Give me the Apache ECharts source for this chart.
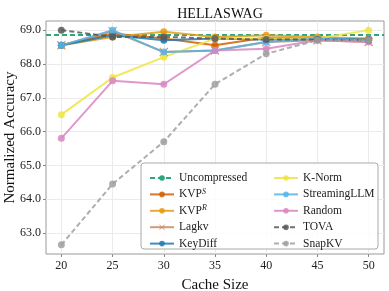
<!DOCTYPE html>
<html><head><meta charset="utf-8">
<script src="https://cdn.jsdelivr.net/npm/echarts@6/dist/echarts.min.js"></script>
<style>html,body{margin:0;padding:0;background:#fff}#c{width:389px;height:291px}</style>
</head><body><div id="c"></div>
<script>
const cacheSizes = [20, 25, 30, 35, 40, 45, 50];
const uncompressed = 68.85;
const kvpS = [68.55, 68.9, 68.75, 68.55, 68.78, 68.75, 68.72];
const kvpR = [68.55, 68.8, 68.95, 68.8, 68.85, 68.8, 68.75];
const lagkv = [68.55, 68.97, 68.35, 68.4, 68.65, 68.7, 68.65];
const keyDiff = [68.55, 68.85, 68.7, 68.75, 68.72, 68.75, 68.72];
const kNorm = [66.5, 67.6, 68.2, 68.75, 68.75, 68.75, 69.0];
const streamingLLM = [68.55, 69.0, 68.35, 68.4, 68.65, 68.75, 68.7];
const random = [65.8, 67.5, 67.4, 68.4, 68.45, 68.7, 68.65];
const tova = [69.0, 68.8, 68.8, 68.75, 68.72, 68.72, 68.7];
const snapKV = [62.65, 64.45, 65.7, 67.4, 68.3, 68.7, 68.7];
const yTicks = [63, 64, 65, 66, 67, 68, 69];
const xTicks = [20, 25, 30, 35, 40, 45, 50];

const FONT = "'Liberation Serif','DejaVu Serif',serif";
const XMARK = 'path://M1,0L5,4L9,0L10,1L6,5L10,9L9,10L5,6L1,10L0,9L4,5L0,1Z';
function pairs(v){ return cacheSizes.map((x,i)=>[x, v[i]]); }
function mk(name, data, color, opts){
  opts = opts || {};
  return {
    name, type:'line', data: pairs(data),
    symbol: opts.symbol || 'circle', symbolSize: opts.symbolSize || 7,
    lineStyle:{color, width:2, type: opts.dash ? [5,3] : 'solid', opacity:0.85},
    itemStyle:{color, opacity:0.85},
    emphasis:{disabled:true}, z: 2
  };
}
const series = [
  {name:'Uncompressed', type:'line', data:[], symbol:'none', z:2,
   lineStyle:{color:'#2ca67d', width:2, type:[5,3]}, itemStyle:{color:'#2ca67d'},
   markLine:{silent:true, symbol:'none', label:{show:false}, z:2,
     lineStyle:{color:'#2ca67d', width:2, type:[5,3]}, data:[{yAxis: uncompressed}]}},
  mk('KVP^S', kvpS, '#d55e00'),
  mk('KVP^R', kvpR, '#e69b12'),
  mk('Lagkv', lagkv, '#c98a5c', {symbol: XMARK, symbolSize: 9}),
  mk('KeyDiff', keyDiff, '#1f7ab5'),
  mk('K-Norm', kNorm, '#f0e442'),
  mk('StreamingLLM', streamingLLM, '#56b4e9'),
  mk('Random', random, '#d886c3'),
  mk('TOVA', tova, '#585858', {dash:true}),
  mk('SnapKV', snapKV, '#a0a0a0', {dash:true})
];
const legendBase = {
  orient:'vertical', itemWidth:24, itemHeight:7, itemGap:2.4, z:10,
  textStyle:{fontFamily:FONT, fontSize:11.5, color:'#222', lineHeight:14,
    rich:{sup:{fontFamily:FONT, fontSize:8, fontStyle:'italic', color:'#222', lineHeight:8, verticalAlign:'top'},
          b:{fontFamily:FONT, fontSize:11.5, color:'#222', lineHeight:14}}},
  formatter: n => n.indexOf('^')>0 ? '{b|' + n.split('^')[0] + '}{sup|' + n.split('^')[1] + '}' : n,
  selectedMode:false
};
const chart = echarts.init(document.getElementById('c'), null, {renderer:'canvas'});
chart.setOption({
  animation:false,
  title:{text:'HELLASWAG', left:215, top:2, textAlign:'center',
    textStyle:{fontFamily:FONT, fontSize:14, fontWeight:'normal', color:'#111'}},
  grid:{left:46, right:5, top:21, bottom:37, show:true, borderColor:'#999', borderWidth:1,
    outerBoundsMode:'none', containLabel:false},
  xAxis:{type:'value', min:18.5, max:51.5, name:'Cache Size', nameLocation:'middle', nameGap:24,
    nameMoveOverlap:false,
    nameTextStyle:{fontFamily:FONT, fontSize:15, color:'#111'},
    axisLine:{show:false}, axisTick:{show:true, length:3, lineStyle:{color:'#888'}, customValues:xTicks},
    axisLabel:{customValues:xTicks, fontFamily:FONT, fontSize:12, color:'#222', margin:6},
    splitLine:{show:true, lineStyle:{color:'#ebebeb', width:1}}},
  yAxis:{type:'value', min:62.38, max:69.27, name:'Normalized Accuracy', nameLocation:'middle', nameGap:28,
    nameMoveOverlap:false,
    nameTextStyle:{fontFamily:FONT, fontSize:15, color:'#111'},
    axisLine:{show:false}, axisTick:{show:true, length:3, lineStyle:{color:'#888'}, customValues:yTicks},
    axisLabel:{customValues:yTicks, formatter:v=>v.toFixed(1), fontFamily:FONT, fontSize:12, color:'#222', margin:5},
    splitLine:{show:true, lineStyle:{color:'#ebebeb', width:1}}},
  legend:[
    Object.assign({}, legendBase, {left:144, top:166, data:['Uncompressed','KVP^S','KVP^R','Lagkv','KeyDiff']}),
    Object.assign({}, legendBase, {left:268, top:166, data:['K-Norm','StreamingLLM','Random','TOVA','SnapKV']})
  ],
  graphic:[{type:'rect', shape:{x:141, y:163, width:237, height:86, r:3},
    style:{fill:'rgba(255,255,255,0.85)', stroke:'#aaa', lineWidth:1}, z:5}],
  series
});
</script></body></html>
